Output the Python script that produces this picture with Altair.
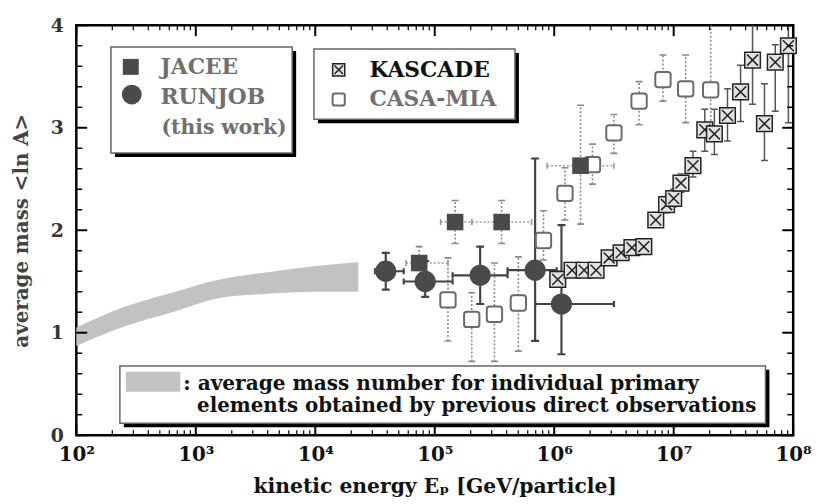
import altair as alt
import pandas as pd

# ---------------- data ----------------
# shaded band: average mass from previous direct observations
band_E = [1e2, 2.51e2, 6.31e2, 1.585e3, 3.98e3, 1e4, 2.29e4]
band_hi = [1.05, 1.25, 1.39, 1.52, 1.59, 1.65, 1.69]
band_lo = [0.87, 1.06, 1.20, 1.34, 1.38, 1.40, 1.40]

# JACEE
jacee_E = [7.41e4, 1.48e5, 3.63e5, 1.66e6]
jacee_y = [1.68, 2.08, 2.08, 2.63]
jacee_lo = [1.52, 1.87, 1.87, 2.06]
jacee_hi = [1.84, 2.29, 2.29, 3.22]
jacee_xlo = [5.75e4, 1.12e5, 2.04e5, 8.71e5]
jacee_xhi = [1.29e5, 2.04e5, 6.46e5, 3.16e6]

# RUNJOB (this work)
runjob_E = [3.89e4, 8.32e4, 2.40e5, 6.92e5, 1.15e6]
runjob_y = [1.60, 1.50, 1.56, 1.61, 1.28]
runjob_lo = [1.42, 1.35, 1.28, 0.92, 0.79]
runjob_hi = [1.78, 1.70, 1.84, 2.70, 2.05]
runjob_xlo = [3.16e4, 5.5e4, 1.41e5, 4.07e5, 6.92e5]
runjob_xhi = [5.5e4, 1.41e5, 4.07e5, 1.05e6, 3.16e6]

# KASCADE
kascade_E = [1.07e6, 1.41e6, 1.78e6, 2.24e6, 2.88e6, 3.63e6, 4.47e6, 5.62e6,
             7.08e6, 8.71e6, 1.00e7, 1.15e7, 1.45e7, 1.82e7, 2.19e7, 2.82e7,
             3.63e7, 4.57e7, 5.75e7, 7.08e7, 9.12e7]
kascade_y = [1.52, 1.61, 1.61, 1.61, 1.73, 1.78, 1.83, 1.84,
             2.10, 2.25, 2.31, 2.46, 2.63, 2.98, 2.94, 3.12,
             3.35, 3.66, 3.04, 3.64, 3.80]
kascade_lo = [1.45, 1.55, 1.55, 1.55, 1.67, 1.72, 1.77, 1.77,
              2.03, 2.17, 2.23, 2.37, 2.52, 2.77, 2.74, 2.87,
              3.06, 3.23, 2.68, 3.16, 3.05]
kascade_hi = [1.60, 1.67, 1.67, 1.67, 1.79, 1.85, 1.90, 1.91,
              2.17, 2.33, 2.40, 2.55, 2.77, 3.18, 3.18, 3.38,
              3.61, 4.20, 3.43, 3.81, 4.20]

# CASA-MIA
casa_E = [1.29e5, 2.04e5, 3.16e5, 5.01e5, 8.13e5, 1.23e6, 2.09e6, 3.16e6,
          5.13e6, 8.13e6, 1.26e7, 2.04e7]
casa_y = [1.32, 1.13, 1.18, 1.29, 1.90, 2.36, 2.64, 2.95, 3.26, 3.47, 3.38, 3.37]
casa_lo = [0.92, 0.72, 0.72, 0.82, 1.71, 2.10, 2.45, 2.75, 3.03, 3.26, 3.05, 2.95]
casa_hi = [1.73, 1.39, 1.68, 1.74, 2.19, 2.61, 2.84, 3.13, 3.45, 3.71, 3.71, 4.30]

# axis ticks
x_major = [1e2, 1e3, 1e4, 1e5, 1e6, 1e7, 1e8]
x_minor = [k * 10 ** d for d in range(2, 8) for k in range(2, 10)]
y_major = [0, 1, 2, 3, 4]
y_minor = [0.2, 0.4, 0.6, 0.8, 1.2, 1.4, 1.6, 1.8, 2.2, 2.4, 2.6, 2.8,
           3.2, 3.4, 3.6, 3.8]

# ---------------- chart ----------------
W, H = 724, 414
FONT = "DejaVu Serif"
xs = alt.Scale(type="log", domain=[1e2, 1e8])
ys = alt.Scale(domain=[0, 4])
one = pd.DataFrame({"k": [0]})

band = pd.DataFrame({"E": band_E, "lo": band_lo, "hi": band_hi})
jacee = pd.DataFrame({"E": jacee_E, "y": jacee_y, "lo": jacee_lo, "hi": jacee_hi,
                      "xlo": jacee_xlo, "xhi": jacee_xhi})
runjob = pd.DataFrame({"E": runjob_E, "y": runjob_y, "lo": runjob_lo, "hi": runjob_hi,
                       "xlo": runjob_xlo, "xhi": runjob_xhi})
kascade = pd.DataFrame({"E": kascade_E, "y": kascade_y, "lo": kascade_lo, "hi": kascade_hi})
casa = pd.DataFrame({"E": casa_E, "y": casa_y, "lo": casa_lo, "hi": casa_hi})

sup = {100: "²", 1000: "³", 10000: "⁴", 100000: "⁵", 1000000: "⁶",
       10000000: "⁷", 100000000: "⁸"}
label_expr = "'10' + (" + " : ".join(
    f"datum.value == {k} ? '{v}'" for k, v in sup.items()) + " : '')"

x_axis = alt.Axis(values=x_major, labelExpr=label_expr, ticks=False, domain=False,
                  grid=False, labelFont=FONT, labelFontSize=20, labelFontWeight="bold",
                  labelColor="#111", labelPadding=10, labelFlush=False,
                  labelOverlap=False, title="kinetic energy Eₚ [GeV/particle]",
                  titleFont=FONT, titleFontSize=20.5, titleFontWeight="bold",
                  titleColor="#111", titlePadding=12)
y_axis = alt.Axis(values=y_major, ticks=False, domain=False, grid=False,
                  labelFont=FONT, labelFontSize=19, labelFontWeight="bold",
                  labelColor="#333", labelPadding=13, labelFlush=False,
                  title="average mass <ln A>", titleFont=FONT, titleFontSize=20,
                  titleFontWeight="bold", titleColor="#444", titlePadding=19)


def X(f):
    return alt.X(f"{f}:Q", scale=xs, axis=x_axis)


def Y(f):
    return alt.Y(f"{f}:Q", scale=ys, axis=y_axis)


layers = []

# band
layers.append(alt.Chart(band).mark_area(color="#c2c2c2", interpolate="monotone",
                                         opacity=1).encode(
    x=X("E"), y=Y("lo"), y2="hi:Q"))


def box(x1, x2, y1, y2):
    shadow = alt.Chart(one).mark_rect(color="black").encode(
        x=alt.value(x1 + 4), x2=alt.value(x2 + 4),
        y=alt.value(y1 + 4), y2=alt.value(y2 + 4))
    face = alt.Chart(one).mark_rect(fill="white", stroke="#666", strokeWidth=1.5).encode(
        x=alt.value(x1), x2=alt.value(x2), y=alt.value(y1), y2=alt.value(y2))
    return [shadow, face]


layers += box(35, 218, 22, 129)
layers += box(240, 443, 24, 95)
layers += box(44, 696, 344, 402)


def vbars(df, color, width, dash=None, cap=8):
    kw = dict(color=color, strokeWidth=width, clip=True)
    if dash:
        kw["strokeDash"] = dash
    out = [alt.Chart(df).mark_rule(**kw).encode(x=X("E"), y=Y("lo"), y2="hi:Q")]
    for f in ("lo", "hi"):
        out.append(alt.Chart(df).mark_tick(orient="horizontal", size=cap,
                                           thickness=width, color=color, opacity=1,
                                           clip=True).encode(x=X("E"), y=Y(f)))
    return out


def hbars(df, color, width, dash=None, cap=8):
    kw = dict(color=color, strokeWidth=width, clip=True)
    if dash:
        kw["strokeDash"] = dash
    out = [alt.Chart(df).mark_rule(**kw).encode(x=X("xlo"), x2="xhi:Q", y=Y("y"))]
    for f in ("xlo", "xhi"):
        out.append(alt.Chart(df).mark_tick(orient="vertical", size=cap,
                                           thickness=width, color=color, opacity=1,
                                           clip=True).encode(x=X(f), y=Y("y")))
    return out


layers += vbars(casa, "#8a8a8a", 1.6, dash=[2, 2], cap=7)
layers += vbars(kascade, "#555", 1.5, cap=7)
layers += hbars(jacee, "#9a9a9a", 1.6, dash=[2, 2], cap=6)
layers += vbars(jacee, "#8a8a8a", 1.6, dash=[2, 2], cap=7)
layers += hbars(runjob, "#444", 2.2, cap=6)
layers += vbars(runjob, "#444", 2.2, cap=8)

KAS_SHAPE = "M-1,-1L1,-1L1,1L-1,1Z M-0.7,-0.7L0.7,0.7 M0.7,-0.7L-0.7,0.7"
CASA_SHAPE = ("M-0.65,-1L0.65,-1Q1,-1 1,-0.65L1,0.65Q1,1 0.65,1L-0.65,1"
              "Q-1,1 -1,0.65L-1,-0.65Q-1,-1 -0.65,-1Z")

casa_mark = dict(shape=CASA_SHAPE, filled=True, fill="white", stroke="#6a6a6a",
                 strokeWidth=2, opacity=1)
kas_mark = dict(shape=KAS_SHAPE, filled=True, fill="#e2e2e2", stroke="#222",
                strokeWidth=1.5, opacity=1)
jacee_mark = dict(shape="square", filled=True, color="#4a4a4a", opacity=1)
runjob_mark = dict(shape="circle", filled=True, color="#4a4a4a", opacity=1)

layers.append(alt.Chart(casa).mark_point(size=240, **casa_mark).encode(x=X("E"), y=Y("y")))
layers.append(alt.Chart(kascade).mark_point(size=250, **kas_mark).encode(x=X("E"), y=Y("y")))
layers.append(alt.Chart(jacee).mark_point(size=280, **jacee_mark).encode(x=X("E"), y=Y("y")))
layers.append(alt.Chart(runjob).mark_point(size=460, **runjob_mark).encode(x=X("E"), y=Y("y")))

# legend entries
layers.append(alt.Chart(one).mark_point(size=260, **jacee_mark).encode(
    x=alt.value(55), y=alt.value(42)))
layers.append(alt.Chart(one).mark_point(size=400, **runjob_mark).encode(
    x=alt.value(56), y=alt.value(70)))
layers.append(alt.Chart(one).mark_point(size=150, **kas_mark).encode(
    x=alt.value(265), y=alt.value(45)))
layers.append(alt.Chart(one).mark_point(size=150, **casa_mark).encode(
    x=alt.value(265), y=alt.value(75)))
layers.append(alt.Chart(one).mark_rect(color="#c2c2c2").encode(
    x=alt.value(50), x2=alt.value(105), y=alt.value(350), y2=alt.value(370)))


def txt(s, x, y, size=22, color="#111", align="left"):
    return alt.Chart(one).mark_text(align=align, baseline="middle", font=FONT,
                                    fontSize=size, fontWeight="bold", color=color).encode(
        x=alt.value(x), y=alt.value(y), text=alt.value(s))


layers.append(txt("JACEE", 85, 42, color="#707070"))
layers.append(txt("RUNJOB", 85, 72, color="#707070"))
layers.append(txt("(this work)", 86, 104, size=20.5, color="#707070"))
layers.append(txt("KASCADE", 296, 45, color="#111"))
layers.append(txt("CASA-MIA", 296, 75, color="#707070"))
layers.append(txt(": average mass number for individual primary", 108, 362, size=20.3))
layers.append(txt("elements obtained by previous direct observations", 122, 385, size=20.0))

# inward ticks
xmin_df = pd.DataFrame({"v": x_minor})
xmaj_df = pd.DataFrame({"v": x_major})
ymin_df = pd.DataFrame({"v": y_minor})
ymaj_df = pd.DataFrame({"v": y_major})
for df, ln, sw in ((xmin_df, 5, 1.2), (xmaj_df, 11, 2)):
    layers.append(alt.Chart(df).mark_rule(color="black", strokeWidth=sw).encode(
        x=X("v"), y=alt.value(H), y2=alt.value(H - ln)))
    layers.append(alt.Chart(df).mark_rule(color="black", strokeWidth=sw).encode(
        x=X("v"), y=alt.value(0), y2=alt.value(ln)))
for df, ln, sw in ((ymin_df, 6, 1.5), (ymaj_df, 11, 2)):
    layers.append(alt.Chart(df).mark_rule(color="black", strokeWidth=sw).encode(
        y=Y("v"), x=alt.value(0), x2=alt.value(ln)))
    layers.append(alt.Chart(df).mark_rule(color="black", strokeWidth=sw).encode(
        y=Y("v"), x=alt.value(W), x2=alt.value(W - ln)))

chart = alt.layer(*layers).properties(
    width=W, height=H,
    padding={"left": 69, "top": 15, "right": 18, "bottom": 64},
    autosize=alt.AutoSizeParams(type="none"),
    background="white",
).configure_view(stroke="black", strokeWidth=2.5)

chart.save("out.html", embed_options={"renderer": "svg", "actions": False})
